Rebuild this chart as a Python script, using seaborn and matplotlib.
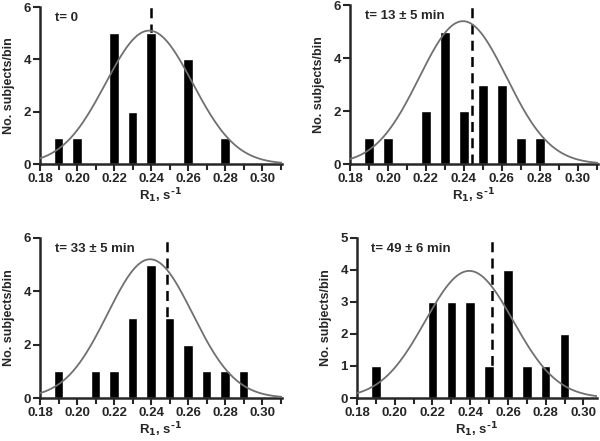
import numpy as np
import pandas as pd
import seaborn as sns
import matplotlib.pyplot as plt
from matplotlib.ticker import MultipleLocator

# histogram bins (R1, s^-1) and counts per panel
bins_0 = [0.19, 0.20, 0.22, 0.23, 0.24, 0.26, 0.28]
counts_0 = [1, 1, 5, 2, 5, 4, 1]

bins_13 = [0.19, 0.20, 0.22, 0.23, 0.24, 0.25, 0.26, 0.27, 0.28]
counts_13 = [1, 1, 2, 5, 2, 3, 3, 1, 1]

bins_33 = [0.19, 0.21, 0.22, 0.23, 0.24, 0.25, 0.26, 0.27, 0.28, 0.29]
counts_33 = [1, 1, 1, 3, 5, 3, 2, 1, 1, 1]

bins_49 = [0.19, 0.22, 0.23, 0.24, 0.25, 0.26, 0.27, 0.28, 0.29]
counts_49 = [1, 3, 3, 3, 1, 4, 1, 1, 2]

titles = ['t= 0', 't= 13 \u00b1 5 min', 't= 33 \u00b1 5 min', 't= 49 \u00b1 6 min']
# gaussian fit: amplitude, centre, sigma
fit_amp = [5.1, 5.4, 5.2, 3.97]
fit_mu = [0.239, 0.2395, 0.2395, 0.2395]
fit_sigma = [0.0235, 0.023, 0.023, 0.0233]
# dashed line = mean R1
means = [0.240, 0.2445, 0.2485, 0.2515]
ymax = [6, 6, 6, 5]
xmax = [0.3107, 0.3105, 0.3107, 0.3072]

panels = [(bins_0, counts_0), (bins_13, counts_13), (bins_33, counts_33), (bins_49, counts_49)]

# axes positions in figure fraction
positions = [
    [0.0667, 0.628, 0.403, 0.356],
    [0.5833, 0.628, 0.413, 0.360],
    [0.0667, 0.0975, 0.403, 0.363],
    [0.595, 0.0975, 0.40, 0.363],
]

sns.set_style('ticks')
plt.rcParams['font.family'] = ['Liberation Sans', 'DejaVu Sans']
plt.rcParams['font.weight'] = 'bold'
plt.rcParams['mathtext.default'] = 'bf'

fig = plt.figure(figsize=(6, 4.41), dpi=100)

for i, (bins, counts) in enumerate(panels):
    ax = fig.add_axes(positions[i])
    df = pd.DataFrame({'r1': bins, 'n': counts})

    ax.axvline(means[i], color='black', lw=1.8, ls=(0, (4, 2.5)), zorder=1)

    sns.barplot(data=df, x='r1', y='n', native_scale=True, width=0.5,
                color='black', saturation=1, ax=ax, zorder=2)

    xs = np.linspace(0.18, xmax[i], 300)
    ys = fit_amp[i] * np.exp(-(xs - fit_mu[i]) ** 2 / (2 * fit_sigma[i] ** 2))
    sns.lineplot(x=xs, y=ys, color='#707070', lw=1.3, ax=ax, zorder=3)

    ax.set_xlim(0.18, xmax[i])
    ax.set_ylim(0, ymax[i])
    ax.set_xticks([0.18, 0.20, 0.22, 0.24, 0.26, 0.28, 0.30])
    ax.set_xticklabels(['0.18', '0.20', '0.22', '0.24', '0.26', '0.28', '0.30'])
    ax.xaxis.set_minor_locator(MultipleLocator(0.01))
    if ymax[i] == 6:
        ax.set_yticks([0, 2, 4, 6])
    else:
        ax.set_yticks([0, 1, 2, 3, 4, 5])

    ax.tick_params(axis='both', which='major', length=5, width=1.5,
                   labelsize=9.5, pad=1.5)
    ax.tick_params(axis='x', which='minor', length=4, width=1.5)
    for lbl in ax.get_xticklabels() + ax.get_yticklabels():
        lbl.set_fontweight('bold')

    sns.despine(ax=ax)
    ax.spines['left'].set_linewidth(1.8)
    ax.spines['bottom'].set_linewidth(1.8)
    ax.set_xlabel('R$_1$, s$^{\\text{-}1}$', fontsize=9.5,
                  fontweight='bold', labelpad=1)
    ax.set_ylabel('No. subjects/bin', fontsize=9, fontweight='bold', labelpad=6)
    ax.text(0.06, 0.97, titles[i], transform=ax.transAxes, fontsize=9.5,
            fontweight='bold', va='top', ha='left')
    ax.patch.set_alpha(0)

fig.savefig('out.png', dpi=100)
